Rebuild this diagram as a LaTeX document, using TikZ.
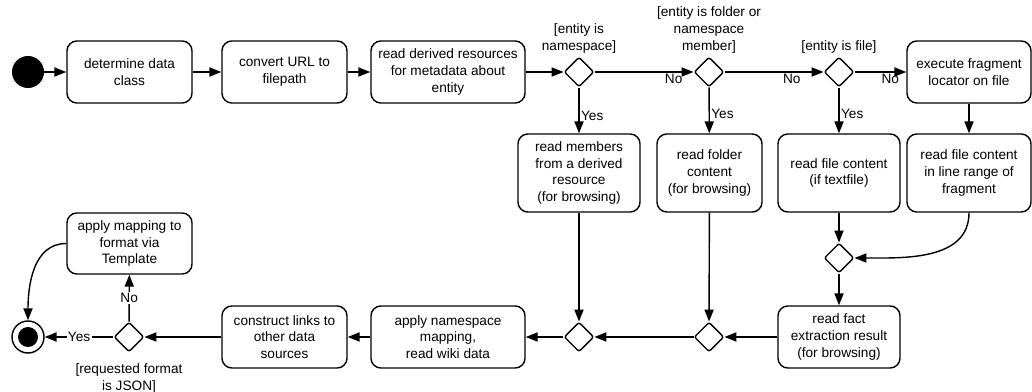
\documentclass[tikz,border=0pt]{standalone}
\usepackage{fontspec}
\setmainfont{Liberation Sans}
\usepackage{tikz}
\usetikzlibrary{arrows.meta,shapes.geometric,positioning}

\begin{document}
\begin{tikzpicture}[x=0.025cm,y=-0.025cm]
	
	\tikzset{vertex/.style = {shape=rectangle,draw,line width=1pt,rounded corners=7pt,align=center,minimum width=3.125cm,minimum height=1.55cm,inner sep=1pt,font=\fontsize{9.7}{12}\selectfont}}
	\tikzset{choice/.style = {shape=diamond,draw,line width=1pt,rounded corners=1.5pt,minimum size=0.74cm,inner sep=0pt}}
	\tikzset{guard/.style = {align=center,inner sep=0pt,font=\fontsize{9.7}{12}\selectfont}}
	\tikzset{edge/.style = {->,line width=1pt,> = {Triangle[length=8.5pt,width=6.5pt]}}}
	\tikzset{lbl/.style = {inner sep=1pt,font=\fontsize{9.7}{12}\selectfont}}
	
	\useasboundingbox (0,0) rectangle (1032,392);
	
	\node[circle,fill,minimum size=0.8cm,inner sep=0pt] (s) at (28,72) {};
	\node[vertex] (a1) at (129.5,72) {determine data\\class};
	\node[vertex] (a2) at (284.5,72) {convert URL to\\filepath};
	\node[vertex,minimum width=3.85cm] (a3) at (448,72) {read derived resources\\for metadata about\\entity};
	\node[vertex,minimum width=3.1cm] (a4) at (969,72) {execute fragment\\locator on file};
	
	\node[choice] (d1) at (579,72) {};
	\node[choice] (d2) at (709,72) {};
	\node[choice] (d3) at (839,72) {};
	\node[guard,above=0.08cm of d1] (g1) {[entity is\\namespace]};
	\node[guard,above=0.08cm of d2] (g2) {[entity is folder or\\namespace\\member]};
	\node[guard,above=0.08cm of d3] (g3) {[entity is file]};
	
	\node[vertex,minimum width=3.05cm,minimum height=1.95cm] (a5) at (579,173) {read members\\from a derived\\resource\\(for browsing)};
	\node[vertex,minimum width=2.625cm,minimum height=1.95cm] (a6) at (709.5,173) {read folder\\content\\(for browsing)};
	\node[vertex,minimum width=3.05cm,minimum height=1.95cm] (a7) at (839,173) {read file content\\(if textfile)};
	\node[vertex,minimum width=3.1cm,minimum height=1.95cm] (a8) at (969,173) {read file content\\in line range of\\fragment};
	
	\node[choice] (m1) at (839,258) {};
	\node[vertex,minimum width=3.05cm] (a9) at (839,337) {read fact\\extraction result\\(for browsing)};
	\node[choice] (m2) at (709,337) {};
	\node[choice] (m3) at (579,337) {};
	\node[vertex,minimum width=3.85cm] (a10) at (448,337) {apply namespace\\mapping,\\read wiki data};
	\node[vertex] (a11) at (284.5,337) {construct links to\\other data\\sources};
	\node[choice] (d4) at (129,337) {};
	\node[guard,below=0.28cm of d4] (g4) {[requested format\\is JSON]};
	\node[vertex,minimum height=1.525cm] (a12) at (129.5,243.5) {apply mapping to\\format via\\Template};
	
	\node[circle,draw,fill=white,line width=1pt,minimum size=0.8cm,inner sep=0pt] (e) at (28,337) {};
	\node[circle,fill,minimum size=0.5cm,inner sep=0pt] (ein) at (e) {};
	
	\draw[edge] (s) to (a1);
	\draw[edge] (a1) to (a2);
	\draw[edge] (a2) to (a3);
	\draw[edge] (a3) to (d1);
	\draw[edge] (d1) to node[lbl,pos=0.8,below] {No} (d2);
	\draw[edge] (d2) to node[lbl,pos=0.68,below] {No} (d3);
	\draw[edge] (d3) to node[lbl,pos=0.69,below] {No} (a4);
	\draw[edge] (d1) to node[lbl,pos=0.62,right] {Yes} (a5);
	\draw[edge] (d2) to node[lbl,pos=0.58,right] {Yes} (a6);
	\draw[edge] (d3) to node[lbl,pos=0.58,right] {Yes} (a7);
	\draw[edge] (a4) to (a8);
	\draw[edge] (a7) to (m1);
	\draw[edge] (a8.south) to[out=-90,in=0] (m1.east);
	\draw[edge] (m1) to (a9);
	\draw[edge] (a9) to (m2);
	\draw[edge] (a6) to (m2);
	\draw[edge] (m2) to (m3);
	\draw[edge] (a5) to (m3);
	\draw[edge] (m3) to (a10);
	\draw[edge] (a10) to (a11);
	\draw[edge] (a11) to (d4);
	\draw[edge] (d4) to node[lbl,fill=white] {Yes} (e);
	\draw[edge] (d4) to node[lbl,fill=white] {No} (a12);
	\draw[edge] (a12.west) to[out=180,in=90] (e.north);
	\end{tikzpicture}
\end{document}
